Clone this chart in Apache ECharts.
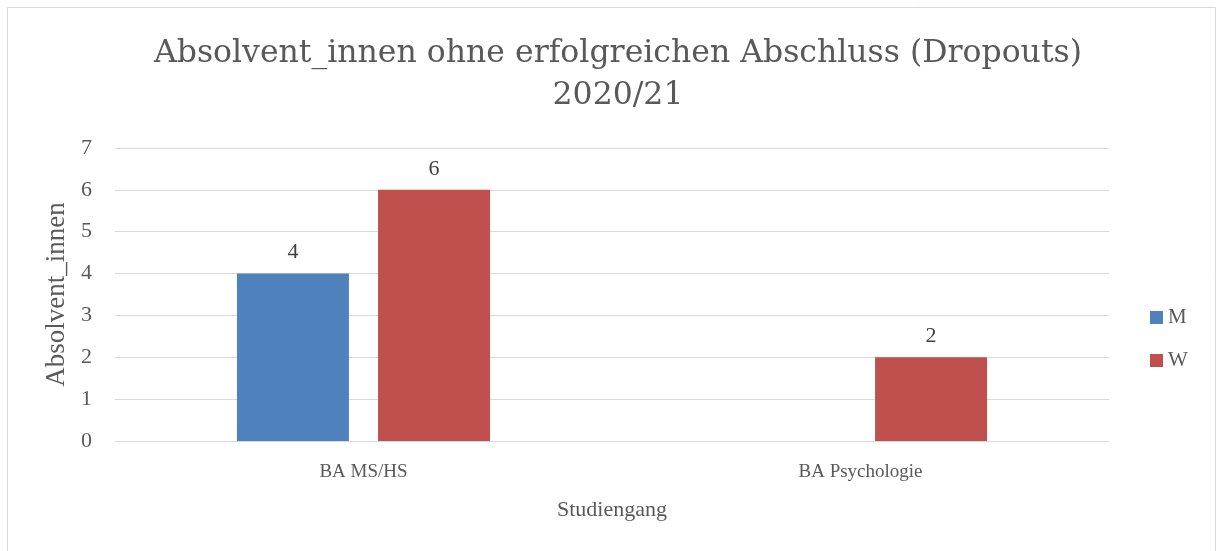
<!DOCTYPE html>
<html><head><meta charset="utf-8">
<script src="https://cdn.jsdelivr.net/npm/echarts@6/dist/echarts.min.js"></script>
<style>html,body{margin:0;padding:0;background:#fff}#c{width:1217px;height:551px}</style>
</head><body><div id="c"></div>
<script>
const categories = ['BA MS/HS', 'BA Psychologie'];
const seriesNames = ['M', 'W'];
const valuesM = [4, null];
const valuesW = [6, 2];
const yTicks = [0, 1, 2, 3, 4, 5, 6, 7];

const FONT = '"Liberation Serif", "DejaVu Serif", serif';
const TFONT = '"DejaVu Serif", "Liberation Serif", serif';
const TXT = '#595959';
const chart = echarts.init(document.getElementById('c'));
chart.setOption({
  animation: false,
  textStyle: { fontFamily: FONT, color: TXT },
  graphic: [{
    type: 'rect', shape: { x: 7.5, y: 7.5, width: 1208, height: 600 },
    style: { fill: 'none', stroke: '#d9d9d9', lineWidth: 1 }, silent: true
  }],
  title: {
    text: 'Absolvent_innen ohne erfolgreichen Abschluss (Dropouts)\n2020/21',
    left: 613, top: 28, textAlign: 'center',
    textStyle: { fontFamily: TFONT, color: TXT, fontSize: 31.5, fontWeight: 'normal', lineHeight: 42 }
  },
  legend: {
    orient: 'vertical', left: 1145, top: 302, itemWidth: 13, itemHeight: 13, itemGap: 22,
    icon: 'rect',
    textStyle: { fontFamily: FONT, color: TXT, fontSize: 21 },
    data: seriesNames
  },
  grid: { left: 115, right: 108, top: 148, bottom: 110 },
  xAxis: {
    type: 'category', data: categories,
    name: 'Studiengang', nameLocation: 'middle', nameGap: 58,
    nameTextStyle: { fontFamily: FONT, color: TXT, fontSize: 22 },
    axisLine: { lineStyle: { color: '#d9d9d9', width: 1 } },
    axisTick: { show: false },
    axisLabel: { color: TXT, fontFamily: FONT, fontSize: 19, margin: 22 }
  },
  yAxis: {
    type: 'value', min: 0, max: 7, interval: 1,
    name: 'Absolvent_innen', nameLocation: 'middle', nameGap: 44, nameRotate: 90,
    nameTextStyle: { fontFamily: FONT, color: TXT, fontSize: 27 },
    axisLine: { show: false }, axisTick: { show: false },
    axisLabel: { color: TXT, fontFamily: FONT, fontSize: 22, margin: 23,
      formatter: v => yTicks.includes(v) ? String(v) : '' },
    splitLine: { lineStyle: { color: '#d9d9d9', width: 1 } }
  },
  series: [
    { name: 'M', type: 'bar', data: valuesM, barWidth: 112, barGap: '26%',
      itemStyle: { color: '#4F81BD' },
      label: { show: true, position: 'top', distance: 10, color: '#404040', fontFamily: FONT, fontSize: 22 } },
    { name: 'W', type: 'bar', data: valuesW, barWidth: 112,
      itemStyle: { color: '#C0504D' },
      label: { show: true, position: 'top', distance: 10, color: '#404040', fontFamily: FONT, fontSize: 22 } }
  ]
});
</script></body></html>
